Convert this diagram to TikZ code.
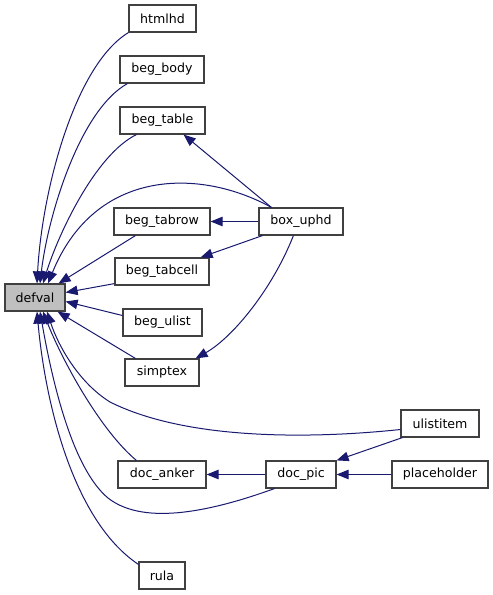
\documentclass[tikz,border=0pt]{standalone}
\usepackage{fontspec}
\setmainfont{DejaVu Sans}
\usetikzlibrary{arrows.meta,calc}
\definecolor{edgecol}{HTML}{191970}
\definecolor{boxline}{HTML}{404040}
\definecolor{selfill}{HTML}{BFBFBF}
\tikzset{
  box/.style={draw=boxline,line width=1.2pt,fill=white,minimum height=27pt,inner sep=0pt,font=\fontsize{12.6}{14}\selectfont},
  edge/.style={draw=edgecol,line width=1pt,-{Triangle[length=12pt,width=9.5pt]}},
}
\begin{document}
\begin{tikzpicture}[x=1pt,y=-1pt]
\useasboundingbox[fill=white] (0,0) rectangle (493,595);
% nodes
\node[box,minimum width=67pt] (htmlhd) at (162.5,18.5) {htmlhd};
\node[box,minimum width=84pt] (begbody) at (162,69.5) {beg\_body};
\node[box,minimum width=85pt] (begtable) at (162.5,120.5) {beg\_table};
\node[box,minimum width=96pt] (begtabrow) at (162,221.5) {beg\_tabrow};
\node[box,minimum width=94pt] (begtabcell) at (162,271.5) {beg\_tabcell};
\node[box,minimum width=60pt,fill=selfill] (defval) at (35,297.5) {defval};
\node[box,minimum width=79pt] (begulist) at (162.5,322.5) {beg\_ulist};
\node[box,minimum width=74pt] (simptex) at (162,372.5) {simptex};
\node[box,minimum width=88pt] (docanker) at (162,474.5) {doc\_anker};
\node[box,minimum width=46pt] (rula) at (162,575.5) {rula};
\node[box,minimum width=84pt] (boxuphd) at (301,221.5) {box\_uphd};
\node[box,minimum width=78pt] (ulistitem) at (440,423.5) {ulistitem};
\node[box,minimum width=70pt] (docpic) at (301,474.5) {doc\_pic};
\node[box,minimum width=96pt] (placeholder) at (440,474.5) {placeholder};
% edges into defval
\draw[edge] (htmlhd.south west) .. controls (75,65) and (42,190) .. ($(defval.north)+(2,0)$);
\draw[edge] ($(begbody.south west)+(8,0)$) .. controls (80,110) and (48,215) .. ($(defval.north)+(5,0)$);
\draw[edge] ($(begtable.south west)+(17,0)$) .. controls (95,155) and (58,235) .. ($(defval.north)+(8,0)$);
\draw[edge] ($(boxuphd.north west)+(13,0)$) .. controls (200,168) and (95,168) .. ($(defval.north)+(13,0)$);
\draw[edge] ($(begtabrow.south west)+(22,0)$) -- ($(defval.north east)+(-7,0)$);
\draw[edge] ($(begtabcell.south west)+(0,-2)$) -- ($(defval.east)+(0,-5)$);
\draw[edge] ($(begulist.west)+(0,-7)$) -- ($(defval.east)+(0,4)$);
\draw[edge] ($(simptex.north west)+(11,0)$) -- ($(defval.south east)+(-8,0)$);
\draw[edge] ($(ulistitem.west)+(0,6)$) .. controls (320,438) and (190,442) .. (110,402) .. controls (78,382) and (58,345) .. ($(defval.south)+(12,0)$);
\draw[edge] ($(docanker.north west)+(19,0)$) .. controls (100,430) and (62,360) .. ($(defval.south)+(8,0)$);
\draw[edge] ($(docpic.south west)+(9,0)$) .. controls (215,510) and (145,527) .. (108,498) .. controls (72,468) and (52,380) .. ($(defval.south)+(5,0)$);
\draw[edge] ($(rula.north west)+(0,3)$) .. controls (72,520) and (45,400) .. ($(defval.south)+(2,0)$);
% other edges
\draw[edge] ($(boxuphd.north west)+(13,0)$) -- ($(begtable.south east)+(-22,0)$);
\draw[edge] (boxuphd.west) -- (begtabrow.east);
\draw[edge] ($(boxuphd.south west)+(4,0)$) -- ($(begtabcell.north east)+(-9,0)$);
\draw[edge] ($(boxuphd.south west)+(35,0)$) .. controls (272,290) and (232,338) .. ($(simptex.north east)+(-4,0)$);
\draw[edge] ($(ulistitem.south west)+(2,0)$) -- (docpic.north east);
\draw[edge] (placeholder.west) -- (docpic.east);
\draw[edge] (docpic.west) -- (docanker.east);
\end{tikzpicture}
\end{document}
